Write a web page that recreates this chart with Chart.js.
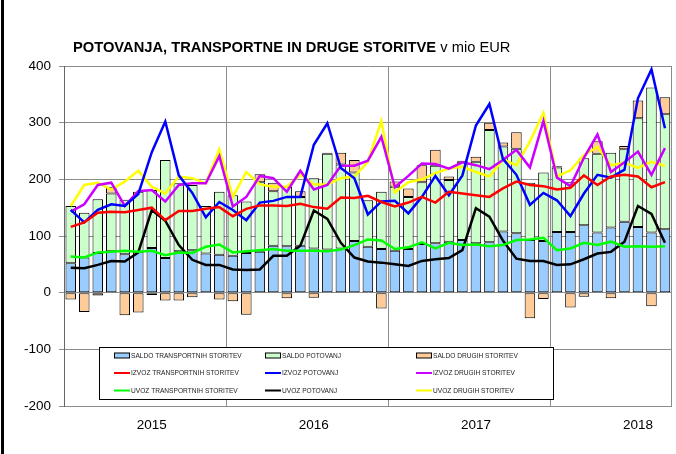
<!DOCTYPE html>
<html>
<head>
<meta charset="utf-8">
<script src="https://cdn.jsdelivr.net/npm/chart.js@4.4.1/dist/chart.umd.min.js"></script>
<style>
    html, body { margin: 0; padding: 0; background: #fff; }
    #wrap { width: 676px; height: 454px; }
</style>
</head>
<body>
<div id="wrap"><canvas id="chart" width="676" height="454"></canvas></div>
<script>
// monthly categories, Jan 2015 - Sep 2018
const categories = [
    '2015-01', '2015-02', '2015-03', '2015-04', '2015-05', '2015-06', '2015-07', '2015-08', '2015-09', '2015-10', '2015-11', '2015-12',
    '2016-01', '2016-02', '2016-03', '2016-04', '2016-05', '2016-06', '2016-07', '2016-08', '2016-09', '2016-10', '2016-11', '2016-12',
    '2017-01', '2017-02', '2017-03', '2017-04', '2017-05', '2017-06', '2017-07', '2017-08', '2017-09', '2017-10', '2017-11', '2017-12',
    '2018-01', '2018-02', '2018-03', '2018-04', '2018-05', '2018-06', '2018-07', '2018-08', '2018-09'
];
const yearLabels = ['2015', '2016', '2017', '2018'];

// bars (stacked)
const saldoTransport = [52, 62, 70, 73, 68, 72, 79, 61, 73, 75, 69, 67, 65, 70, 72, 83, 82, 83, 78, 76, 78, 91, 81, 77, 74, 77, 86, 87, 90, 93, 87, 89, 108, 105, 93, 91, 107, 107, 119, 106, 115, 125, 116, 106, 112];
const saldoPotovanj = [101, 79, 95, 102, 96, 106, 102, 173, 120, 115, 84, 111, 107, 91, 123, 96, 105, 86, 124, 169, 148, 121, 82, 101, 113, 92, 109, 137, 109, 138, 144, 198, 150, 149, 101, 121, 114, 88, 118, 139, 132, 128, 192, 256, 203];
const saldoDrugih = [-12, -34, -5, 12, -40, -35, -4, -14, -14, -8, -1, -12, -15, -39, 14, 15, -10, 10, -9, 2, 21, 22, -1, -28, 9, 15, 30, 28, 6, 2, 9, 13, 7, 29, -45, -11, 2, -26, -7, 22, -10, 6, 31, -24, 30];

// lines
const izvozTransport = [116, 124, 141, 143, 142, 146, 150, 128, 144, 144, 148, 151, 135, 148, 154, 154, 153, 157, 151, 148, 168, 167, 171, 160, 152, 159, 169, 159, 178, 175, 172, 169, 184, 196, 190, 188, 182, 185, 207, 190, 205, 208, 205, 186, 195];
const izvozPotovanj = [146, 124, 146, 156, 153, 174, 248, 302, 207, 176, 133, 160, 146, 128, 159, 162, 169, 169, 261, 299, 220, 202, 138, 161, 162, 140, 169, 206, 172, 207, 295, 333, 236, 208, 155, 176, 163, 135, 175, 208, 203, 217, 343, 394, 290];
const izvozDrugih = [143, 156, 190, 194, 153, 179, 181, 161, 190, 193, 193, 241, 152, 169, 206, 202, 178, 215, 182, 190, 224, 224, 233, 275, 186, 206, 228, 227, 219, 230, 225, 218, 234, 252, 221, 303, 203, 188, 238, 279, 213, 230, 249, 208, 255];
const uvozTransport = [64, 62, 71, 72, 74, 72, 74, 66, 71, 70, 81, 85, 71, 73, 75, 77, 74, 74, 74, 73, 76, 84, 94, 92, 77, 80, 89, 78, 88, 84, 85, 82, 84, 93, 94, 97, 75, 78, 88, 84, 90, 81, 82, 81, 82];
const uvozPotovanj = [44, 43, 49, 56, 55, 71, 146, 127, 84, 58, 49, 49, 41, 40, 41, 65, 65, 83, 145, 130, 88, 62, 55, 53, 50, 47, 56, 59, 61, 75, 149, 134, 92, 60, 56, 56, 49, 50, 59, 69, 72, 90, 153, 139, 88];
const uvozDrugih = [153, 190, 194, 182, 196, 215, 187, 175, 205, 202, 193, 253, 169, 213, 191, 187, 187, 208, 191, 191, 202, 205, 231, 303, 177, 195, 200, 211, 219, 222, 213, 205, 235, 225, 267, 317, 205, 216, 243, 257, 225, 229, 220, 231, 224];

const FONT = '"Liberation Sans", Arial, sans-serif';
const GRID = '#8c8c8c';

function bar(label, data, color) {
    return {
        type: 'bar', label, data,
        backgroundColor: color, borderColor: '#000', borderWidth: 1, borderSkipped: false,
        stack: 'saldo', order: 2,
        barPercentage: 0.78, categoryPercentage: 1
    };
}

function line(label, data, color, key) {
    return {
        type: 'line', label, data,
        borderColor: color, backgroundColor: color, borderWidth: 2.5,
        pointRadius: 0, tension: 0, fill: false,
        stack: key, order: 1
    };
}

// white background + left frame line
const framePlugin = {
    id: 'frame',
    beforeDraw(chart) {
        const ctx = chart.ctx;
        ctx.save();
        ctx.fillStyle = '#fff';
        ctx.fillRect(0, 0, chart.width, chart.height);
        ctx.fillStyle = '#000';
        ctx.fillRect(1, 0, 3, chart.height);
        ctx.restore();
    }
};

// title with bold and regular part
const titlePlugin = {
    id: 'mixedTitle',
    afterDraw(chart) {
        const ctx = chart.ctx;
        ctx.save();
        ctx.fillStyle = '#000';
        ctx.textBaseline = 'alphabetic';
        ctx.font = 'bold 14.7px ' + FONT;
        const boldPart = 'POTOVANJA, TRANSPORTNE IN DRUGE STORITVE';
        ctx.fillText(boldPart, 73, 52);
        const w = ctx.measureText(boldPart).width;
        ctx.font = '14.7px ' + FONT;
        ctx.fillText(' v mio EUR', 73 + w, 52);
        ctx.restore();
    }
};

// 3x3 legend box inside the plot area
const boxLegendPlugin = {
    id: 'boxLegend',
    afterDraw(chart) {
        const ctx = chart.ctx;
        const left = 99, top = 347, width = 454, height = 52;
        const colX = [114, 265, 416];
        const rowY = [355.5, 373, 390.5];
        ctx.save();
        ctx.fillStyle = '#fff';
        ctx.fillRect(left, top, width, height);
        ctx.strokeStyle = '#000';
        ctx.lineWidth = 1;
        ctx.strokeRect(left + 0.5, top + 0.5, width, height);
        ctx.font = '6.6px ' + FONT;
        ctx.textBaseline = 'middle';
        chart.data.datasets.forEach((ds, i) => {
            const x = colX[i % 3];
            const y = rowY[Math.floor(i / 3)];
            if (ds.type === 'bar') {
                ctx.fillStyle = ds.backgroundColor;
                ctx.fillRect(x, y - 2.5, 15, 5);
                ctx.strokeStyle = '#000';
                ctx.lineWidth = 1;
                ctx.strokeRect(x + 0.5, y - 2.5, 15, 5);
            } else {
                ctx.strokeStyle = ds.borderColor;
                ctx.lineWidth = 2;
                ctx.beginPath();
                ctx.moveTo(x, y);
                ctx.lineTo(x + 16, y);
                ctx.stroke();
            }
            ctx.fillStyle = '#222';
            ctx.fillText(ds.label, x + 17, y + 0.5);
        });
        ctx.restore();
    }
};

new Chart(document.getElementById('chart'), {
    data: {
        labels: categories,
        datasets: [
            bar('SALDO TRANSPORTNIH STORITEV', saldoTransport, '#99ccff'),
            bar('SALDO POTOVANJ', saldoPotovanj, '#ccffcc'),
            bar('SALDO DRUGIH STORITEV', saldoDrugih, '#ffcc99'),
            line('IZVOZ TRANSPORTNIH STORITEV', izvozTransport, '#ff0000', 'l1'),
            line('IZVOZ POTOVANJ', izvozPotovanj, '#0000ff', 'l2'),
            line('IZVOZ DRUGIH STORITEV', izvozDrugih, '#cc00ff', 'l3'),
            line('UVOZ TRANSPORTNIH STORITEV', uvozTransport, '#00ff00', 'l4'),
            line('UVOZ POTOVANJ', uvozPotovanj, '#000000', 'l5'),
            line('UVOZ DRUGIH STORITEV', uvozDrugih, '#ffff00', 'l6')
        ]
    },
    options: {
        responsive: false,
        animation: false,
        devicePixelRatio: 1,
        layout: { padding: { top: 66, right: 3, left: 0, bottom: 0 } },
        plugins: {
            legend: { display: false },
            title: { display: false },
            tooltip: { enabled: false }
        },
        scales: {
            x: {
                stacked: true,
                offset: true,
                grid: {
                    offset: true,
                    drawTicks: false,
                    color: (c) => (c.index === undefined || c.index % 12 === 0) ? GRID : 'rgba(0,0,0,0)'
                },
                border: { color: GRID },
                ticks: {
                    autoSkip: false, maxRotation: 0, minRotation: 0, padding: 11,
                    color: '#000', font: { family: FONT, size: 13.5 },
                    callback: (v, i) => i % 12 === 6 ? yearLabels[Math.floor(i / 12)] : ''
                },
                afterFit: (s) => { s.height = 48; }
            },
            y: {
                stacked: true,
                min: -200, max: 400,
                ticks: { stepSize: 100, padding: 8, color: '#000', font: { family: FONT, size: 13.5 } },
                grid: { color: GRID, tickLength: 5 },
                border: { color: '#666' },
                afterFit: (s) => { s.width = 64; }
            }
        }
    },
    plugins: [framePlugin, titlePlugin, boxLegendPlugin]
});
</script>
</body>
</html>
